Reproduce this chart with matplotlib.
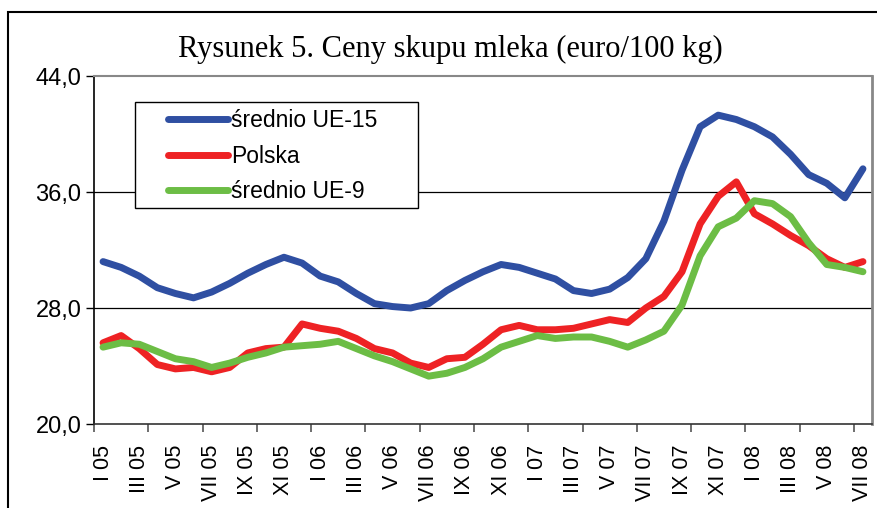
import matplotlib
matplotlib.use("Agg")
import matplotlib.pyplot as plt
from matplotlib.patches import Rectangle
from matplotlib.ticker import FixedLocator, FuncFormatter

# miesiace I 05 .. VII 08
miesiace = ["I 05", "II 05", "III 05", "IV 05", "V 05", "VI 05", "VII 05", "VIII 05",
            "IX 05", "X 05", "XI 05", "XII 05",
            "I 06", "II 06", "III 06", "IV 06", "V 06", "VI 06", "VII 06", "VIII 06",
            "IX 06", "X 06", "XI 06", "XII 06",
            "I 07", "II 07", "III 07", "IV 07", "V 07", "VI 07", "VII 07", "VIII 07",
            "IX 07", "X 07", "XI 07", "XII 07",
            "I 08", "II 08", "III 08", "IV 08", "V 08", "VI 08", "VII 08"]

ue15 = [31.2, 30.8, 30.2, 29.4, 29.0, 28.7, 29.1, 29.7, 30.4, 31.0, 31.5, 31.1,
        30.2, 29.8, 29.0, 28.3, 28.1, 28.0, 28.3, 29.2, 29.9, 30.5, 31.0, 30.8,
        30.4, 30.0, 29.2, 29.0, 29.3, 30.1, 31.4, 34.0, 37.5, 40.5, 41.3, 41.0,
        40.5, 39.8, 38.6, 37.2, 36.6, 35.6, 37.6]
polska = [25.6, 26.1, 25.2, 24.1, 23.8, 23.9, 23.6, 23.9, 24.9, 25.2, 25.3, 26.9,
          26.6, 26.4, 25.9, 25.2, 24.9, 24.2, 23.9, 24.5, 24.6, 25.5, 26.5, 26.8,
          26.5, 26.5, 26.6, 26.9, 27.2, 27.0, 28.0, 28.8, 30.5, 33.8, 35.7, 36.7,
          34.5, 33.8, 33.0, 32.3, 31.4, 30.8, 31.2]
ue9 = [25.3, 25.6, 25.5, 25.0, 24.5, 24.3, 23.9, 24.2, 24.6, 24.9, 25.3, 25.4,
       25.5, 25.7, 25.2, 24.7, 24.3, 23.8, 23.3, 23.5, 23.9, 24.5, 25.3, 25.7,
       26.1, 25.9, 26.0, 26.0, 25.7, 25.3, 25.8, 26.4, 28.2, 31.6, 33.6, 34.2,
       35.4, 35.2, 34.3, 32.5, 31.0, 30.8, 30.5]

y_ticks = [20, 28, 36, 44]

W, H = 878, 508
fig = plt.figure(figsize=(W / 100, H / 100), dpi=100)
ax = fig.add_axes([94/W, 1 - 424/H, 778/W, 348/H])

x = list(range(len(miesiace)))
styl = dict(lw=5, solid_capstyle="round", solid_joinstyle="round")
ax.plot(x, ue15, color="#2F4FA2", label="średnio UE-15", **styl)
ax.plot(x, polska, color="#EE2224", label="Polska", **styl)
ax.plot(x, ue9, color="#6CBD45", label="średnio UE-9", **styl)

ax.set_xlim(-0.5, len(miesiace) - 0.5)
ax.set_ylim(20, 44)

ax.set_yticks(y_ticks)
ax.yaxis.set_major_formatter(FuncFormatter(lambda v, p: f"{v:.1f}".replace(".", ",")))
for v in y_ticks[1:3]:
    ax.axhline(v, color="black", lw=0.9, zorder=0)

# etykiety co 2 miesiace, kreski co 3
ax.set_xticks(x[::2])
ax.set_xticklabels(miesiace[::2], rotation=90, fontfamily="Liberation Sans", fontsize=15.5)
ax.xaxis.set_minor_locator(FixedLocator([i - 0.5 for i in range(0, len(miesiace), 3)]))
ax.tick_params(axis="x", which="major", length=0, pad=15)
ax.tick_params(axis="x", which="minor", length=6, color="#555555", width=1.2)
ax.tick_params(axis="y", length=6, width=1, labelsize=17, pad=3)
for t in ax.get_yticklabels():
    t.set_fontfamily("Liberation Sans")

ax.spines["left"].set_color("black")
ax.spines["bottom"].set_color("#333333")
ax.spines["left"].set_linewidth(1.2)
ax.spines["bottom"].set_linewidth(1.2)
ax.spines["top"].set_color("#888888")
ax.spines["top"].set_linewidth(1.5)
ax.spines["right"].set_color("#888888")
ax.spines["right"].set_linewidth(2)

# ramka legendy
ax.add_patch(Rectangle(((135 - 94) / 778, (424 - 208) / 348), (418 - 135) / 778, (208 - 102) / 348,
                       transform=ax.transAxes, fc="white", ec="black", lw=1, zorder=4))
leg = ax.legend(loc="upper left", bbox_to_anchor=((168 - 94) / 778, (424 - 109) / 348), borderaxespad=0,
                prop={"family": "Liberation Sans", "size": 16.5}, frameon=False,
                handlelength=2.6, handletextpad=0.15, labelspacing=0.55, borderpad=0)
leg.set_zorder(5)
for l in leg.get_lines():
    l.set_linewidth(5)
    l.set_solid_capstyle("round")

fig.text(0.5125, 1 - 57/H, "Rysunek 5. Ceny skupu mleka (euro/100 kg)",
         ha="center", va="baseline", fontfamily="Liberation Serif", fontsize=22)

fig.patches.append(Rectangle((8/W, -0.05), 1.0, 1 - 12/H + 0.05, transform=fig.transFigure,
                             fill=False, ec="black", lw=1.5))

fig.savefig("out.png", dpi=100)
